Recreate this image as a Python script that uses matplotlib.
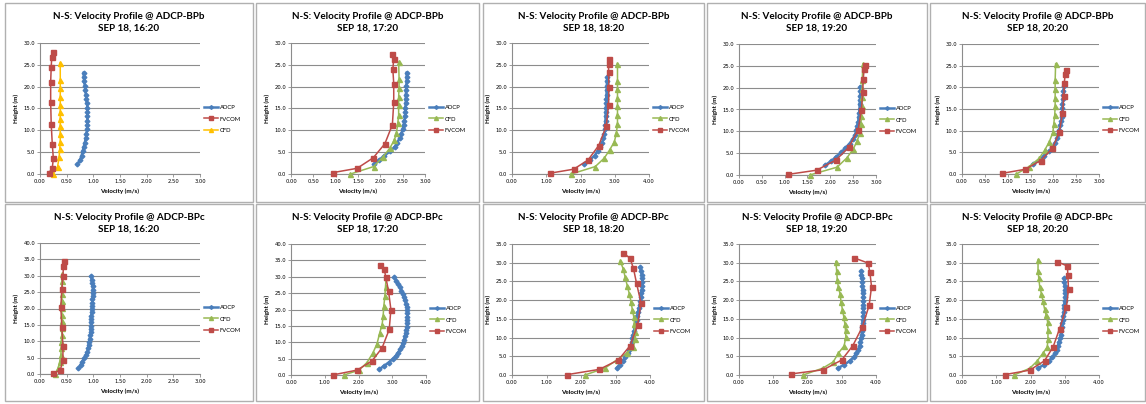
import matplotlib
matplotlib.use("Agg")
import matplotlib.pyplot as plt
from matplotlib.patches import Rectangle
from matplotlib.ticker import MultipleLocator, FormatStrFormatter

plt.rcParams['font.family'] = ['Lato', 'DejaVu Sans']

# ---- data ----
STATIONS = ["ADCP-BPb"] * 5 + ["ADCP-BPc"] * 5
TIMES = ["16:20", "17:20", "18:20", "19:20", "20:20"] * 2
X_MAX = [3.0, 3.0, 4.0, 3.0, 3.0, 3.0, 4.0, 4.0, 4.0, 4.0]
Y_MAX = [30.0] * 5 + [40.0, 40.0, 35.0, 35.0, 35.0]

# ADCP bin heights
ADCP_H_BPB = [2.2, 3.2, 4.2, 5.2, 6.2, 7.2, 8.2, 9.2, 10.2, 11.2, 12.2,
              13.2, 14.2, 15.2, 16.2, 17.2, 18.2, 19.2, 20.2, 21.2, 22.2, 23.2]
ADCP_H_BPC = [1.8, 2.8, 3.8, 4.8, 5.8, 6.8, 7.8, 8.8, 9.8, 10.8, 11.8, 12.8,
              13.8, 14.8, 15.8, 16.8, 17.8, 18.8, 19.8, 20.8, 21.8, 22.8,
              23.8, 24.8, 25.8, 26.8, 27.8, 28.8, 29.8]

ADCP_V1 = [0.70, 0.75, 0.78, 0.80, 0.82, 0.84, 0.86, 0.87, 0.88, 0.89, 0.89,
           0.89, 0.89, 0.89, 0.88, 0.87, 0.86, 0.85, 0.84, 0.83, 0.82, 0.82]
ADCP_V2 = [1.85, 1.97, 2.09, 2.22, 2.32, 2.38, 2.43, 2.47, 2.50, 2.52, 2.54,
           2.55, 2.56, 2.56, 2.57, 2.57, 2.57, 2.58, 2.58, 2.59, 2.59, 2.59]
ADCP_V3 = [2.10, 2.27, 2.41, 2.50, 2.58, 2.63, 2.67, 2.70, 2.72, 2.72, 2.73,
           2.73, 2.74, 2.74, 2.75, 2.75, 2.76, 2.76, 2.77, 2.77, 2.78]
ADCP_V4 = [1.88, 2.02, 2.13, 2.24, 2.33, 2.42, 2.49, 2.54, 2.57, 2.59, 2.61,
           2.62, 2.63, 2.64, 2.64, 2.65, 2.65, 2.66, 2.66]
ADCP_V5 = [1.55, 1.68, 1.80, 1.91, 1.98, 2.04, 2.08, 2.11, 2.13, 2.15, 2.17,
           2.18, 2.19, 2.20, 2.20, 2.21, 2.22, 2.22, 2.23]
ADCP_V6 = [0.72, 0.76, 0.79, 0.83, 0.86, 0.89, 0.90, 0.91, 0.92, 0.93, 0.94,
           0.95, 0.95, 0.95, 0.96, 0.96, 0.96, 0.97, 0.97, 0.98, 0.98, 0.98,
           0.99, 0.99, 0.99, 0.99, 0.98, 0.97, 0.96]
ADCP_V7 = [2.62, 2.76, 2.89, 3.01, 3.10, 3.17, 3.23, 3.28, 3.32, 3.35, 3.38,
           3.40, 3.42, 3.43, 3.44, 3.45, 3.45, 3.45, 3.44, 3.43, 3.41, 3.38,
           3.35, 3.31, 3.27, 3.23, 3.18, 3.12, 3.06]
ADCP_V8 = [3.03, 3.12, 3.21, 3.28, 3.35, 3.40, 3.44, 3.47, 3.49, 3.51, 3.54,
           3.57, 3.59, 3.61, 3.63, 3.65, 3.68, 3.70, 3.72, 3.74, 3.75, 3.76,
           3.77, 3.78, 3.78, 3.76, 3.74, 3.71]
ADCP_V9 = [2.88, 3.08, 3.24, 3.35, 3.43, 3.48, 3.52, 3.54, 3.56, 3.58, 3.59,
           3.60, 3.61, 3.62, 3.63, 3.63, 3.63, 3.63, 3.63, 3.63, 3.62, 3.61,
           3.60, 3.60, 3.59, 3.57, 3.56]
ADCP_V10 = [2.22, 2.40, 2.54, 2.64, 2.71, 2.76, 2.80, 2.83, 2.86, 2.88, 2.90,
            2.91, 2.93, 2.94, 2.96, 2.97, 2.98, 2.99, 3.00, 3.01, 3.01, 3.01,
            3.00, 2.99, 2.98]

FVCOM_H1 = [0.15, 1.3, 3.6, 6.9, 11.5, 16.5, 21.1, 24.4, 26.7, 27.9]
FVCOM_V1 = [0.16, 0.23, 0.25, 0.23, 0.21, 0.20, 0.20, 0.21, 0.22, 0.25]
FVCOM_H2 = [0.3, 1.3, 3.7, 6.9, 11.3, 16.4, 20.7, 24.0, 26.3, 27.5]
FVCOM_V2 = [0.93, 1.48, 1.84, 2.10, 2.27, 2.30, 2.30, 2.28, 2.30, 2.27]
FVCOM_H3 = [0.2, 1.1, 3.2, 6.5, 10.9, 15.8, 20.0, 23.3, 25.2, 26.3]
FVCOM_V3 = [1.12, 1.80, 2.22, 2.53, 2.75, 2.82, 2.83, 2.82, 2.82, 2.82]
FVCOM_H4 = [0.15, 1.1, 3.4, 6.4, 10.4, 14.9, 19.0, 21.9, 24.3, 25.1]
FVCOM_V4 = [1.08, 1.70, 2.12, 2.41, 2.61, 2.68, 2.71, 2.72, 2.74, 2.75]
FVCOM_H5 = [0.15, 1.1, 3.1, 5.9, 9.6, 14.1, 17.9, 21.0, 23.1, 23.9]
FVCOM_V5 = [0.88, 1.39, 1.72, 1.98, 2.13, 2.20, 2.23, 2.24, 2.26, 2.27]
FVCOM_H6 = [0.2, 1.2, 4.2, 8.6, 14.2, 20.4, 25.9, 30.0, 32.9, 34.4]
FVCOM_V6 = [0.25, 0.38, 0.43, 0.43, 0.41, 0.39, 0.41, 0.43, 0.44, 0.45]
FVCOM_H7 = [0.0, 1.5, 4.3, 8.3, 13.9, 20.0, 25.6, 29.8, 32.4, 33.7]
FVCOM_V7 = [1.23, 1.96, 2.40, 2.70, 2.91, 2.96, 2.89, 2.81, 2.76, 2.63]
FVCOM_H8 = [0.1, 1.5, 4.0, 7.8, 13.3, 19.2, 24.5, 28.5, 31.2, 32.6]
FVCOM_V8 = [1.60, 2.53, 3.08, 3.42, 3.64, 3.74, 3.61, 3.52, 3.42, 3.23]
FVCOM_H9 = [0.3, 1.4, 4.0, 7.8, 12.8, 18.6, 23.6, 27.5, 29.9, 31.3]
FVCOM_V9 = [1.53, 2.46, 3.00, 3.32, 3.60, 3.80, 3.87, 3.82, 3.77, 3.36]
FVCOM_H10 = [0.1, 1.3, 3.8, 7.5, 12.4, 18.2, 22.9, 26.6, 29.1, 30.3]
FVCOM_V10 = [1.25, 1.98, 2.41, 2.66, 2.85, 3.05, 3.11, 3.09, 3.08, 2.77]

CFD_H1 = [0.0, 1.7, 4.0, 5.7, 7.4, 9.2, 10.9, 12.5, 14.1, 15.7, 17.7, 19.7, 21.6, 25.4]
CFD_V1 = [0.24, 0.33, 0.36, 0.37, 0.38, 0.38, 0.38, 0.38, 0.38, 0.38, 0.38, 0.38, 0.38, 0.38]
CFD_H2 = [0.0, 1.7, 4.0, 5.9, 7.7, 9.3, 11.6, 13.5, 15.8, 17.7, 19.8, 21.7, 25.6]
CFD_V2 = [1.33, 1.85, 2.07, 2.21, 2.31, 2.36, 2.39, 2.41, 2.41, 2.41, 2.42, 2.42, 2.41]
CFD_H3 = [0.0, 1.7, 3.6, 5.5, 7.4, 9.5, 11.5, 13.5, 15.5, 17.4, 19.4, 21.3, 25.2]
CFD_V3 = [1.73, 2.43, 2.69, 2.85, 2.99, 3.05, 3.08, 3.08, 3.08, 3.08, 3.08, 3.08, 3.08]
CFD_H4 = [0.0, 1.8, 3.9, 5.9, 7.9, 9.7, 11.7, 13.6, 15.7, 17.8, 19.7, 21.8, 25.4]
CFD_V4 = [1.55, 2.15, 2.36, 2.50, 2.59, 2.65, 2.67, 2.68, 2.69, 2.69, 2.70, 2.70, 2.71]
CFD_H5 = [0.0, 1.7, 3.6, 5.5, 7.4, 9.6, 11.6, 13.5, 15.6, 17.5, 19.7, 21.6, 25.4]
CFD_V5 = [1.19, 1.47, 1.69, 1.81, 1.91, 1.99, 2.01, 2.03, 2.04, 2.04, 2.04, 2.04, 2.05]
CFD_H6 = [0.0, 1.7, 3.8, 5.8, 7.9, 9.9, 12.0, 14.0, 16.1, 18.1, 20.2, 22.2, 24.3, 26.3, 28.4, 30.4]
CFD_V6 = [0.28, 0.34, 0.37, 0.39, 0.40, 0.40, 0.41, 0.41, 0.41, 0.41, 0.41, 0.41, 0.41, 0.41, 0.41, 0.41]
CFD_H7 = [0.0, 1.5, 3.8, 6.8, 9.6, 12.9, 15.4, 18.0, 21.0, 24.0, 27.0, 30.0]
CFD_V7 = [1.57, 2.02, 2.25, 2.43, 2.55, 2.63, 2.70, 2.73, 2.75, 2.78, 2.80, 2.82]
CFD_H8 = [0.0, 1.8, 4.0, 5.8, 7.5, 9.5, 11.5, 13.5, 15.5, 17.4, 19.6, 21.7, 23.9, 26.1, 28.2, 30.4]
CFD_V8 = [2.11, 2.69, 3.03, 3.32, 3.52, 3.56, 3.56, 3.55, 3.53, 3.49, 3.45, 3.40, 3.34, 3.28, 3.23, 3.14]
CFD_H9 = [0.0, 1.8, 3.5, 5.8, 7.8, 10.2, 11.9, 13.7, 15.5, 17.5, 19.5, 21.7, 23.5, 25.4, 27.9, 30.3]
CFD_V9 = [1.87, 2.44, 2.75, 2.90, 3.07, 3.12, 3.11, 3.09, 3.06, 3.02, 2.98, 2.95, 2.90, 2.87, 2.85, 2.83]
CFD_H10 = [0.0, 1.8, 3.7, 5.8, 7.5, 9.7, 11.9, 14.2, 15.9, 17.7, 19.9, 21.7, 23.6, 26.0, 27.9, 30.7]
CFD_V10 = [1.52, 1.98, 2.19, 2.36, 2.49, 2.51, 2.51, 2.50, 2.46, 2.41, 2.36, 2.32, 2.27, 2.24, 2.22, 2.22]

ADCP_V = [ADCP_V1, ADCP_V2, ADCP_V3, ADCP_V4, ADCP_V5,
          ADCP_V6, ADCP_V7, ADCP_V8, ADCP_V9, ADCP_V10]
FVCOM = [(FVCOM_H1, FVCOM_V1), (FVCOM_H2, FVCOM_V2), (FVCOM_H3, FVCOM_V3),
         (FVCOM_H4, FVCOM_V4), (FVCOM_H5, FVCOM_V5), (FVCOM_H6, FVCOM_V6),
         (FVCOM_H7, FVCOM_V7), (FVCOM_H8, FVCOM_V8), (FVCOM_H9, FVCOM_V9),
         (FVCOM_H10, FVCOM_V10)]
CFD = [(CFD_H1, CFD_V1), (CFD_H2, CFD_V2), (CFD_H3, CFD_V3), (CFD_H4, CFD_V4),
       (CFD_H5, CFD_V5), (CFD_H6, CFD_V6), (CFD_H7, CFD_V7), (CFD_H8, CFD_V8),
       (CFD_H9, CFD_V9), (CFD_H10, CFD_V10)]

BLUE = "#4a7ebb"
GREEN = "#98b954"
RED = "#be4b48"
YELLOW = "#ffc000"
GRID = "#8c8c8c"

W, H = 1146, 404
# axes rectangles in pixels: (left, right, top, bottom)
AX_PX = [(40, 200, 43, 174), (291, 425, 43, 174), (512, 649, 43, 174),
         (739, 876, 44, 175), (962, 1099, 44, 174),
         (40, 200, 243, 374), (291, 426, 244, 375), (512, 650, 244, 375),
         (739, 876, 244, 375), (962, 1099, 244, 375)]
# panel frames in pixels: (left, right, top, bottom)
BOX_PX = [(5, 253, 3, 202), (256, 479, 3, 202), (483, 704, 3, 202),
          (707, 927, 3, 202), (930, 1145, 3, 202),
          (5, 253, 204, 401), (256, 479, 204, 401), (483, 704, 204, 401),
          (707, 927, 204, 401), (930, 1145, 204, 401)]

fig = plt.figure(figsize=(W / 100, H / 100), dpi=100)

for i in range(10):
    bl, br, bt, bb = BOX_PX[i]
    fig.add_artist(Rectangle((bl / W, 1 - bb / H), (br - bl) / W, (bb - bt) / H,
                             transform=fig.transFigure, fill=False,
                             edgecolor="#b0b0b0", lw=1.0))
    fig.text((bl + br) / 2 / W, 1 - (bt + 19) / H,
             f"N-S: Velocity Profile @ {STATIONS[i]}\nSEP 18, {TIMES[i]}",
             ha="center", va="center", fontsize=7.1, fontweight="bold",
             linespacing=1.4)

    l, r, t, b = AX_PX[i]
    ax = fig.add_axes([l / W, 1 - b / H, (r - l) / W, (b - t) / H])

    adcp_h = (ADCP_H_BPB if i < 5 else ADCP_H_BPC)[:len(ADCP_V[i])]
    ax.plot(ADCP_V[i], adcp_h, color=BLUE, lw=1.8, marker="D", ms=2.4,
            mec=BLUE, mfc=BLUE, label="ADCP", clip_on=False, zorder=3)
    cfd_color = YELLOW if i == 0 else GREEN
    ax.plot(CFD[i][1], CFD[i][0], color=cfd_color, lw=1.1,
            marker="^", ms=3.6, label="CFD", clip_on=False, zorder=3)
    ax.plot(FVCOM[i][1], FVCOM[i][0], color=RED, lw=1.1,
            marker="s", ms=3.6, label="FVCOM", clip_on=False, zorder=4)

    ax.set_xlim(0, X_MAX[i])
    ax.set_ylim(0, Y_MAX[i])
    ax.xaxis.set_major_locator(MultipleLocator(1.0 if X_MAX[i] == 4.0 else 0.5))
    ax.yaxis.set_major_locator(MultipleLocator(5.0))
    ax.xaxis.set_major_formatter(FormatStrFormatter("%.2f"))
    ax.yaxis.set_major_formatter(FormatStrFormatter("%.1f"))
    ax.yaxis.grid(True, color=GRID, lw=0.8)
    ax.set_axisbelow(True)
    for s in ["top", "right"]:
        ax.spines[s].set_visible(False)
    for s in ["left", "bottom"]:
        ax.spines[s].set_color(GRID)
        ax.spines[s].set_linewidth(0.8)
    ax.tick_params(labelsize=3.8, length=2, width=0.6, color=GRID, pad=1.5)
    for lab in ax.get_xticklabels() + ax.get_yticklabels():
        lab.set_family("DejaVu Sans")
    ax.set_xlabel("Velocity (m/s)", fontsize=4.5, fontweight="bold", labelpad=3)
    ax.set_ylabel("Height (m)", fontsize=4.5, fontweight="bold", labelpad=3)

    handles, labels = ax.get_legend_handles_labels()
    if i == 0:
        order = [0, 2, 1]
        handles = [handles[k] for k in order]
        labels = [labels[k] for k in order]
    ax.legend(handles, labels, loc="center left", bbox_to_anchor=(1.0, 0.42),
              frameon=False, fontsize=4.2, handlelength=2.4, handletextpad=0.25,
              labelspacing=1.1, markerscale=0.8, borderaxespad=0.3)

fig.savefig("out.png", dpi=100)
